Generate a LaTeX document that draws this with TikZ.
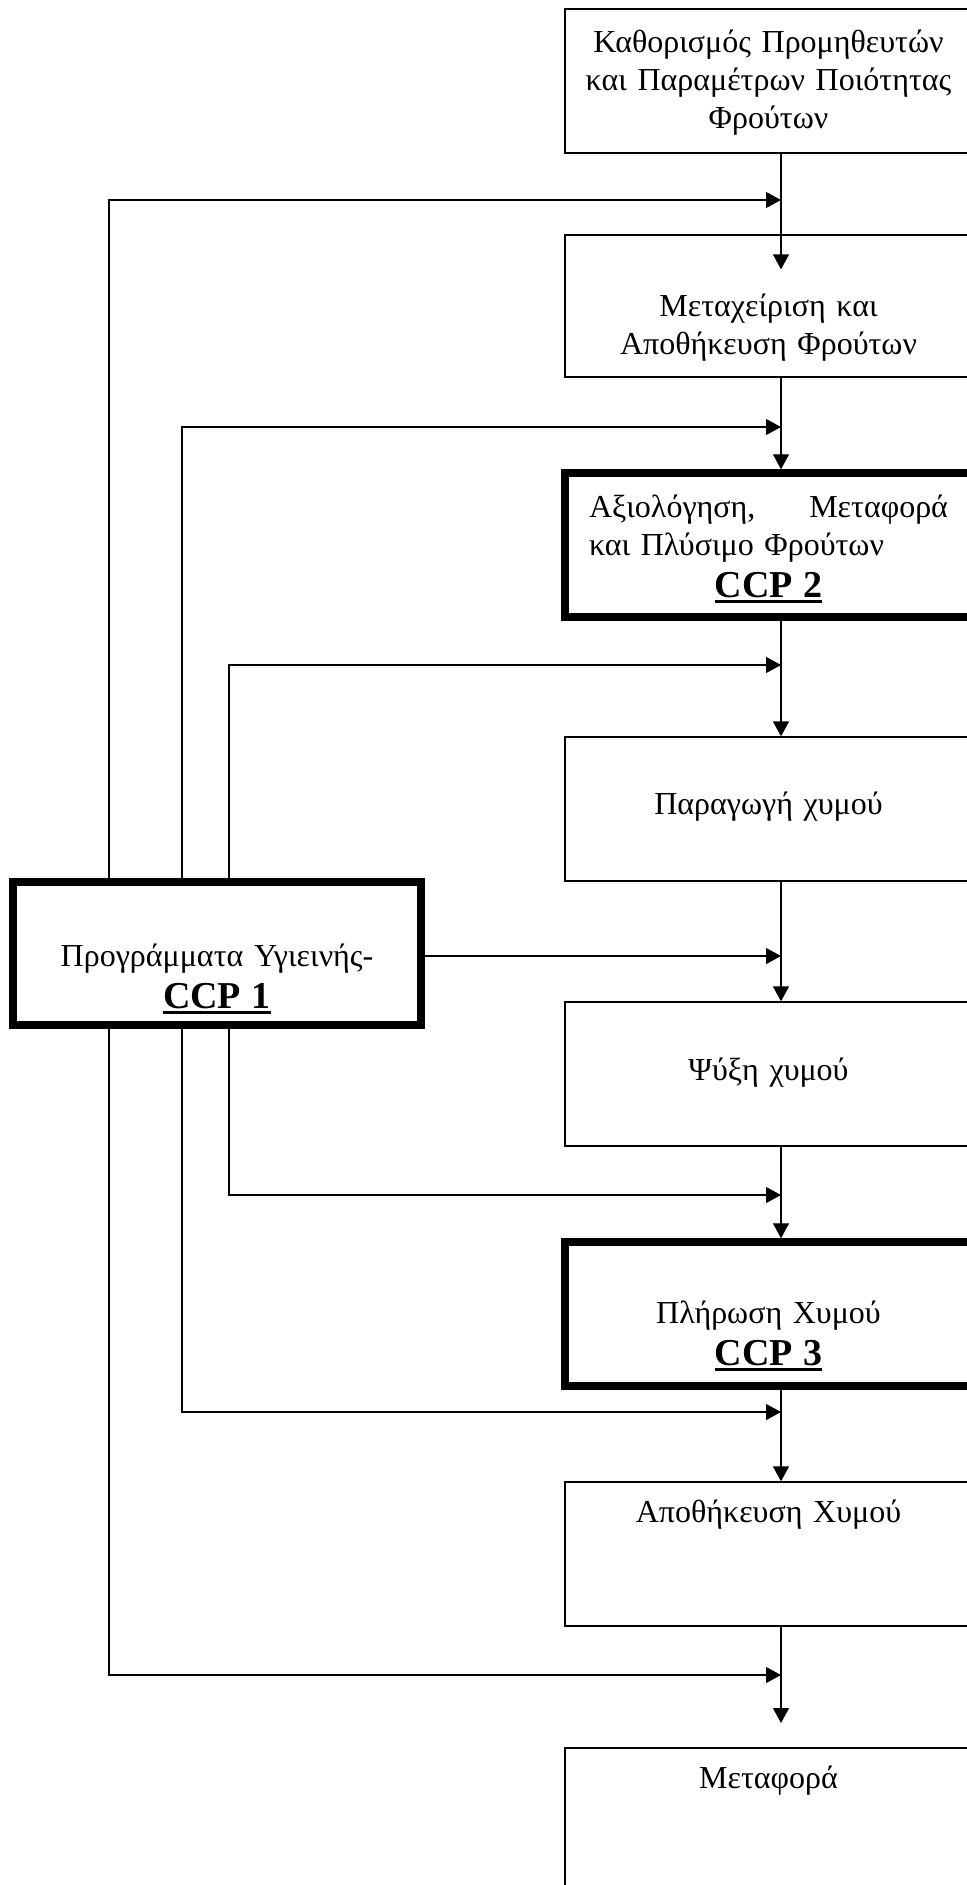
\documentclass[tikz,border=0pt]{standalone}
\usepackage{fontspec}
\setmainfont{Liberation Serif}
\usetikzlibrary{arrows.meta,calc}
\newcommand\ccpmark[1]{\leavevmode{\fontsize{19}{23}\selectfont\bfseries\setbox0\hbox{#1}\rlap{\rule[-3pt]{\wd0}{1.3pt}}\box0}}
\tikzset{
  box/.style={draw,line width=0.65pt,minimum width=204pt,minimum height=72pt,inner sep=0pt},
  thickbox/.style={draw,line width=3.75pt,minimum width=204pt,minimum height=72pt,inner sep=0pt},
  arr/.style={line width=0.65pt,-{Triangle[length=7.5pt,width=8pt]}},
  lbl/.style={anchor=base,inner sep=0pt,align=center,text width=200pt,font=\fontsize{16}{19}\selectfont}
}
\begin{document}
\begin{tikzpicture}[x=0.5pt,y=-0.5pt]
\useasboundingbox (0,0) rectangle (967,1885);
\clip (0,0) rectangle (967,1885);
% boxes
\node[box] (b1) at (769,81) {};
\node[box,minimum height=71pt] (b2) at (769,306) {};
\node[thickbox] (b3) at (769,545) {};
\node[box] (b4) at (769,809) {};
\node[box] (b5) at (769,1074) {};
\node[thickbox] (b6) at (769,1314) {};
\node[box] (b7) at (769,1554) {};
\node[box] (b8) at (769,1820) {};
\node[thickbox,minimum height=71.5pt] (c1) at (217,953.5) {};
% texts
\node[lbl] (t1) at (768.5,52) {Καθορισμός Προμηθευτών\\και Παραμέτρων Ποιότητας\\Φρούτων};
\node[lbl] (t2) at (768.5,316) {Μεταχείριση και\\Αποθήκευση Φρούτων};
\node[lbl,align=left,text width=179.5pt] (t3) at (768.5,517) {\noindent\hbox to 179.5pt{Αξιολόγηση,\hfill Μεταφορά}\\και Πλύσιμο Φρούτων\\[2pt]\makebox[179.5pt]{\ccpmark{CCP 2}}};
\node[lbl] (t4) at (768.5,814) {Παραγωγή χυμού};
\node[lbl] (t5) at (768.5,1080) {Ψύξη χυμού};
\node[lbl] (t6) at (768.5,1323) {Πλήρωση Χυμού\\[2pt]\ccpmark{CCP 3}};
\node[lbl] (t7) at (768.5,1522) {Αποθήκευση Χυμού};
\node[lbl] (t8) at (768.5,1788) {Μεταφορά};
\node[lbl] (tc) at (217,966) {Προγράμματα Υγιεινής-\\[2pt]\ccpmark{CCP 1}};
% coordinates
\coordinate (col) at (781,0);
\coordinate (xa) at (109,0);
\coordinate (xb) at (182,0);
\coordinate (xc) at (229,0);
\coordinate (j1) at (781,200);
\coordinate (j2) at (781,427);
\coordinate (j3) at (781,665);
\coordinate (j4) at (781,956);
\coordinate (j5) at (781,1195);
\coordinate (j6) at (781,1412);
\coordinate (j7) at (781,1675);
\coordinate (endp) at (781,1723);
% main chain
\draw[arr] (b1.south -| col) -- ($(b2.north -| col)+(0,35)$);
\draw[arr] (b2.south -| col) -- (b3.north -| col);
\draw[arr] (b3.south -| col) -- (b4.north -| col);
\draw[arr] (b4.south -| col) -- (b5.north -| col);
\draw[arr] (b5.south -| col) -- (b6.north -| col);
\draw[arr] (b6.south -| col) -- (b7.north -| col);
\draw[arr] (b7.south -| col) -- (endp);
% feedback from CCP 1
\draw[arr] (c1.north -| xa) |- (j1);
\draw[arr] (c1.north -| xb) |- (j2);
\draw[arr] (c1.north -| xc) |- (j3);
\draw[arr] (c1.east |- j4) -- (j4);
\draw[arr] (c1.south -| xc) |- (j5);
\draw[arr] (c1.south -| xb) |- (j6);
\draw[arr] (c1.south -| xa) |- (j7);
\end{tikzpicture}
\end{document}
